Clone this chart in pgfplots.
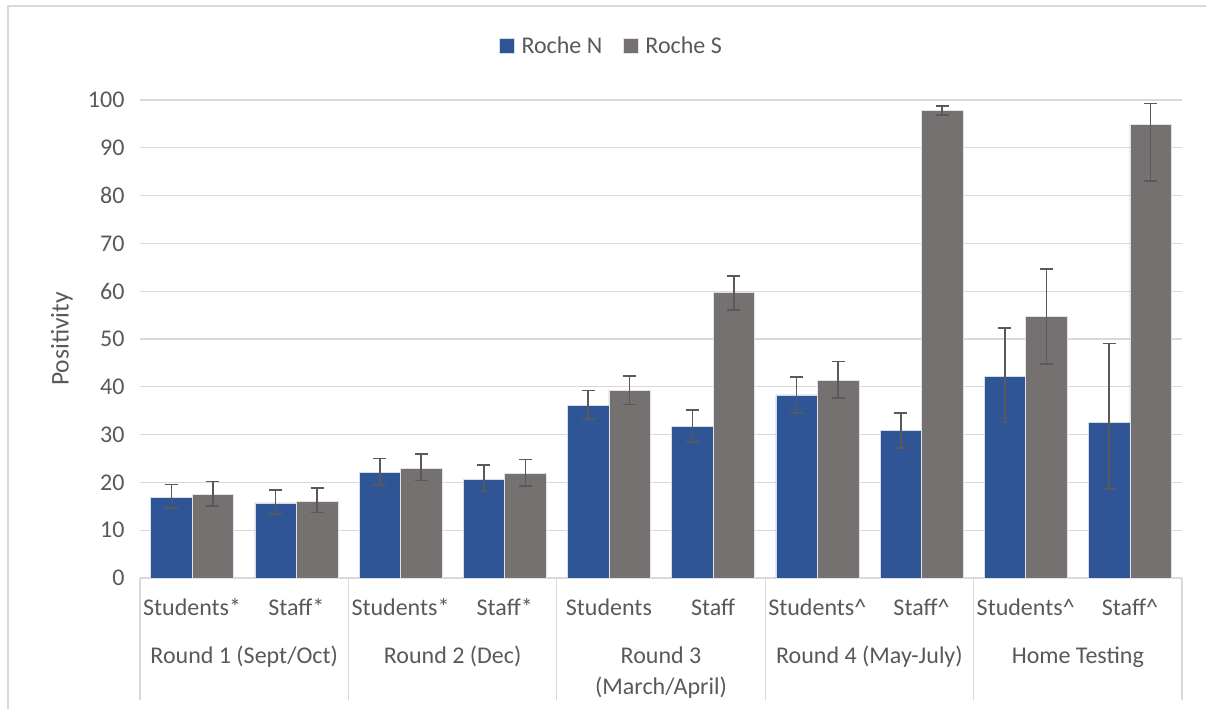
\documentclass[border=0pt]{standalone}
\usepackage{pgfplots}
\pgfplotsset{compat=1.18}
\usepackage{pgfplotstable}
\usepackage{fontspec}
\setmainfont{Carlito}

\definecolor{rocheN}{HTML}{2F5597}
\definecolor{rocheS}{HTML}{767171}
\definecolor{txtgray}{HTML}{595959}
\definecolor{gridgray}{HTML}{D9D9D9}

% x  N  N+  N-  S  S+  S-
\pgfplotstableread{
x  n     np    nm    s     sp    sm
0  16.9  2.7   2.3   17.5  2.7   2.4
1  15.7  2.7   2.3   16.1  2.7   2.4
2  22.1  2.9   2.6   22.9  3.1   2.5
3  20.6  3.0   2.5   21.8  3.0   2.6
4  36.1  3.1   2.8   39.3  3.0   3.0
5  31.7  3.4   3.3   59.7  3.5   3.6
6  38.3  3.8   3.8   41.3  4.0   3.7
7  30.8  3.7   3.6   97.8  1.0   1.0
8  42.1  10.2  9.6   54.8  9.9   10.0
9  32.5  16.6  13.9  94.9  4.4   11.8
}\datatable

\pgfplotsset{errstyle/.style={
    error bars/y dir=both, error bars/y explicit,
    error bars/error bar style={txtgray, line width=1.6pt},
    error bars/error mark options={rotate=90, mark size=6.5pt, txtgray, line width=1.6pt}}}

\begin{document}
\begin{tikzpicture}
\path[use as bounding box] (-140pt,-131pt) rectangle (1066pt,578pt);
\draw[gridgray, line width=1.2pt] (-132pt,-131pt) -- (-132pt,572pt) -- (1066pt,572pt);
\begin{axis}[
    scale only axis,
    width=1042pt, height=478pt,
    at={(0pt,0pt)}, anchor=south west,
    ybar=0pt,
    bar width=41.5pt,
    xmin=-0.5, xmax=9.5,
    ymin=0, ymax=100,
    ytick={0,10,...,100},
    xtick=data,
    xticklabels={Students*,Staff*,Students*,Staff*,Students,Staff,Students\^{},Staff\^{},Students\^{},Staff\^{}},
    /pgf/number format/assume math mode=true,
    major tick length=0pt,
    axis x line*=bottom,
    axis y line*=left,
    y axis line style={draw=none},
    x axis line style={gridgray, line width=1.2pt},
    ymajorgrids,
    grid style={gridgray, line width=1.2pt},
    ticklabel style={font=\fontsize{24}{28}\selectfont, text=txtgray},
    xticklabel style={anchor=base, yshift=-37pt},
    yticklabel style={anchor=east, xshift=-12pt},
    ylabel={Positivity},
    every axis y label/.style={at={(axis description cs:-0.0749,0.5)}, rotate=90, anchor=center, font=\fontsize{25.5}{28}\selectfont, text=txtgray},
    legend style={at={(0.455,1.113)}, anchor=center, draw=none, legend columns=2,
        font=\fontsize{24}{28}\selectfont, text=txtgray,
        nodes={inner xsep=7pt},
        /tikz/every even column/.append style={column sep=14pt}},
    legend image code/.code={\fill[#1] (0pt,-7pt) rectangle (14.5pt,7.5pt);},
    clip=false,
]
\addplot[fill=rocheN, draw=white!80!rocheN, line width=0.6pt, errstyle]
    table[x=x, y=n, y error plus=np, y error minus=nm] {\datatable};
\addplot[fill=rocheS, draw=white!80!rocheS, line width=0.6pt, errstyle]
    table[x=x, y=s, y error plus=sp, y error minus=sm] {\datatable};
\legend{Roche N, Roche S}

% group separators and labels
\pgfplotsinvokeforeach{-0.5,1.5,3.5,5.5,7.5,9.5}{
    \draw[gridgray, line width=1.2pt] (axis cs:#1,0) -- ([yshift=-122pt]axis cs:#1,0);
}
\begin{scope}[every node/.style={anchor=base, font=\fontsize{24}{28}\selectfont, text=txtgray}]
\node at ([yshift=-85pt]axis cs:0.5,0) {Round 1 (Sept/Oct)};
\node at ([yshift=-85pt]axis cs:2.5,0) {Round 2 (Dec)};
\node at ([yshift=-85pt]axis cs:4.5,0) {Round 3};
\node at ([yshift=-116pt]axis cs:4.5,0) {(March/April)};
\node at ([yshift=-85pt]axis cs:6.5,0) {Round 4 (May-July)};
\node at ([yshift=-85pt]axis cs:8.5,0) {Home Testing};
\end{scope}
\end{axis}
\end{tikzpicture}
\end{document}
